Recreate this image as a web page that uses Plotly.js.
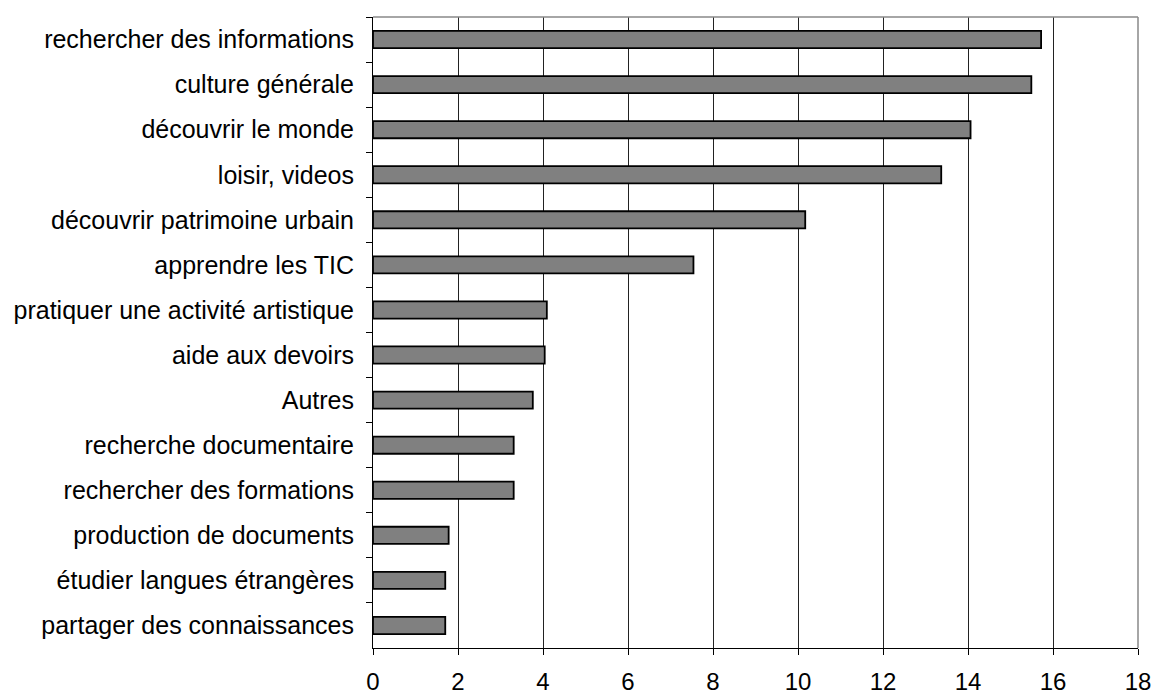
<!DOCTYPE html>
<html>
<head>
<meta charset="utf-8">
<script src="https://cdn.plot.ly/plotly-3.0.1.min.js"></script>
<style>html,body{margin:0;padding:0;background:#fff;}#chart{width:1155px;height:696px;}</style>
</head>
<body>
<div id="chart"></div>
<script>
const categories = [
  "rechercher des informations",
  "culture générale",
  "découvrir le monde",
  "loisir, videos",
  "découvrir patrimoine urbain",
  "apprendre les TIC",
  "pratiquer une activité artistique",
  "aide aux devoirs",
  "Autres",
  "recherche documentaire",
  "rechercher des formations",
  "production de documents",
  "étudier langues étrangères",
  "partager des connaissances"
];
const values = [15.72, 15.49, 14.06, 13.37, 10.17, 7.54, 4.09, 4.04, 3.76, 3.31, 3.31, 1.78, 1.70, 1.70];
const xTicks = [0, 2, 4, 6, 8, 10, 12, 14, 16, 18];

const trace = {
  type: "bar",
  orientation: "h",
  y: categories,
  x: values,
  width: 0.38,
  marker: {color: "#808080", line: {color: "#000000", width: 1.8}},
  hoverinfo: "x+y"
};

const layout = {
  width: 1155,
  height: 696,
  margin: {l: 373, r: 17, t: 17, b: 48},
  paper_bgcolor: "#ffffff",
  plot_bgcolor: "#ffffff",
  showlegend: false,
  font: {family: "Liberation Sans, Arial, sans-serif", size: 25, color: "#000"},
  xaxis: {
    range: [0, 18],
    tickvals: xTicks,
    ticktext: xTicks.map(String),
    showgrid: true,
    gridcolor: "#222222",
    gridwidth: 1,
    zeroline: false,
    showline: true,
    linecolor: "#000000",
    linewidth: 1,
    ticks: "outside",
    ticklen: 6,
    tickcolor: "#000000",
    tickfont: {size: 24},
    ticklabelstandoff: 6,
    fixedrange: true
  },
  yaxis: {
    type: "category",
    autorange: "reversed",
    range: [-0.5, 13.5],
    tickson: "boundaries",
    ticks: "outside",
    ticklen: 6,
    tickcolor: "#000000",
    showgrid: false,
    zeroline: false,
    showline: true,
    linecolor: "#000000",
    linewidth: 1,
    ticklabelstandoff: 13,
    fixedrange: true
  },
  shapes: [
    {type: "line", xref: "paper", yref: "paper", x0: 0, x1: 1, y0: 1, y1: 1, line: {color: "#888888", width: 1.5}},
    {type: "line", xref: "paper", yref: "paper", x0: 1, x1: 1, y0: 0, y1: 1, line: {color: "#888888", width: 1.5}}
  ]
};

Plotly.newPlot("chart", [trace], layout, {displayModeBar: false, staticPlot: true});
</script>
</body>
</html>
